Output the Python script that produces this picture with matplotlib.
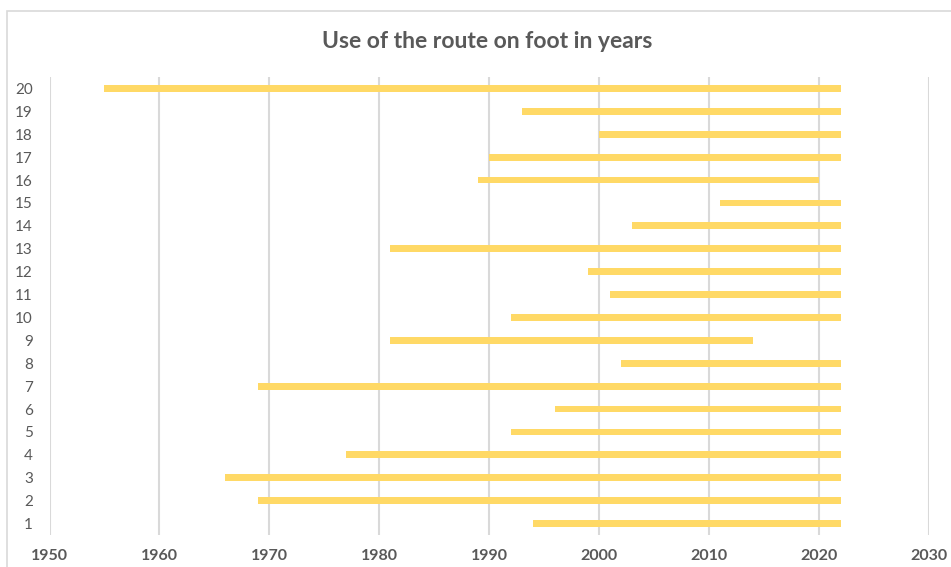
import matplotlib.pyplot as plt
from matplotlib.patches import Rectangle

routes = list(range(1, 21))
start_year = [1994, 1969, 1966, 1977, 1992, 1996, 1969, 2002, 1981, 1992,
              2001, 1999, 1981, 2003, 2011, 1989, 1990, 2000, 1993, 1955]
end_year = [2022, 2022, 2022, 2022, 2022, 2022, 2022, 2022, 2014, 2022,
            2022, 2022, 2022, 2022, 2022, 2020, 2022, 2022, 2022, 2022]
x_ticks = list(range(1950, 2031, 10))

BAR = "#FFD966"
GRID = "#D9D9D9"
TEXT = "#595959"


def main():
    plt.rcParams['font.family'] = ['Lato', 'DejaVu Sans']
    fig = plt.figure(figsize=(9.51, 5.67), dpi=100)

    # chart frame (cropped at right and bottom like the screenshot)
    fig.patches.append(Rectangle((7 / 951, -0.1), 1.0, 1 - 11 / 567 + 0.1,
                                 transform=fig.transFigure, fill=False,
                                 edgecolor=GRID, linewidth=1.2))

    ax = fig.add_axes([49.5 / 951, 1 - 535 / 567, 879.5 / 951, 458 / 567])
    widths = [e - s for s, e in zip(start_year, end_year)]
    ax.barh(routes, widths, left=start_year, height=0.3, color=BAR, zorder=3)

    ax.set_xlim(1950, 2030)
    ax.set_ylim(0.5, 20.5)
    ax.set_xticks(x_ticks)
    ax.set_xticklabels([str(t) for t in x_ticks], fontweight='bold')
    ax.set_yticks(routes)
    ax.tick_params(axis='both', length=0, colors=TEXT)
    ax.tick_params(axis='x', pad=10, labelsize=11.5)
    ax.tick_params(axis='y', pad=12, labelsize=11)
    ax.grid(axis='x', color=GRID, linewidth=1.5, zorder=0)
    for s in ax.spines.values():
        s.set_visible(False)

    fig.text(487 / 951, 1 - 41 / 567, "Use of the route on foot in years",
             ha='center', va='center', fontsize=16.5, fontweight='bold',
             color=TEXT)

    fig.savefig("out.png", dpi=100)


if __name__ == "__main__":
    main()
